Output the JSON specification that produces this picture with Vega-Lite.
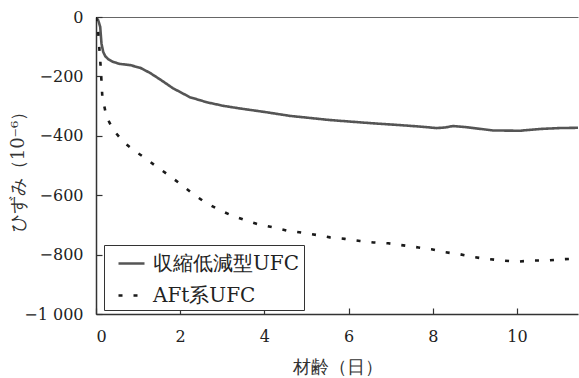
{
  "$schema": "https://vega.github.io/schema/vega-lite/v6.json",
  "width": 482,
  "height": 297,
  "autosize": "none",
  "padding": {"left": 96, "top": 17, "right": 1, "bottom": 64},
  "background": "white",
  "config": {
    "view": {"stroke": null}
  },
  "data": {
    "values": [
      {"series": "収縮低減型UFC", "day": 0, "strain": 0},
      {"series": "収縮低減型UFC", "day": 0.05, "strain": -10},
      {"series": "収縮低減型UFC", "day": 0.1, "strain": -33},
      {"series": "収縮低減型UFC", "day": 0.13, "strain": -89},
      {"series": "収縮低減型UFC", "day": 0.17, "strain": -117},
      {"series": "収縮低減型UFC", "day": 0.22, "strain": -132},
      {"series": "収縮低減型UFC", "day": 0.29, "strain": -142},
      {"series": "収縮低減型UFC", "day": 0.4, "strain": -151},
      {"series": "収縮低減型UFC", "day": 0.57, "strain": -158},
      {"series": "収縮低減型UFC", "day": 0.81, "strain": -162},
      {"series": "収縮低減型UFC", "day": 1.05, "strain": -171},
      {"series": "収縮低減型UFC", "day": 1.28, "strain": -188},
      {"series": "収縮低減型UFC", "day": 1.52, "strain": -210},
      {"series": "収縮低減型UFC", "day": 1.83, "strain": -240},
      {"series": "収縮低減型UFC", "day": 2.23, "strain": -270},
      {"series": "収縮低減型UFC", "day": 2.63, "strain": -287},
      {"series": "収縮低減型UFC", "day": 3.02, "strain": -299},
      {"series": "収縮低減型UFC", "day": 3.42, "strain": -308},
      {"series": "収縮低減型UFC", "day": 3.97, "strain": -319},
      {"series": "収縮低減型UFC", "day": 4.61, "strain": -333},
      {"series": "収縮低減型UFC", "day": 5.56, "strain": -347},
      {"series": "収縮低減型UFC", "day": 6.58, "strain": -358},
      {"series": "収縮低減型UFC", "day": 7.22, "strain": -364},
      {"series": "収縮低減型UFC", "day": 7.7, "strain": -369},
      {"series": "収縮低減型UFC", "day": 8.09, "strain": -374},
      {"series": "収縮低減型UFC", "day": 8.3, "strain": -372},
      {"series": "収縮低減型UFC", "day": 8.48, "strain": -367},
      {"series": "収縮低減型UFC", "day": 8.8, "strain": -371},
      {"series": "収縮低減型UFC", "day": 9.43, "strain": -382},
      {"series": "収縮低減型UFC", "day": 10.07, "strain": -383},
      {"series": "収縮低減型UFC", "day": 10.55, "strain": -377},
      {"series": "収縮低減型UFC", "day": 11.0, "strain": -374},
      {"series": "収縮低減型UFC", "day": 11.45, "strain": -373},
      {"series": "AFt系UFC", "day": 0, "strain": 0},
      {"series": "AFt系UFC", "day": 0.02, "strain": -20},
      {"series": "AFt系UFC", "day": 0.05, "strain": -44},
      {"series": "AFt系UFC", "day": 0.07, "strain": -88},
      {"series": "AFt系UFC", "day": 0.1, "strain": -145},
      {"series": "AFt系UFC", "day": 0.12, "strain": -190},
      {"series": "AFt系UFC", "day": 0.15, "strain": -268},
      {"series": "AFt系UFC", "day": 0.25, "strain": -336},
      {"series": "AFt系UFC", "day": 0.41, "strain": -380},
      {"series": "AFt系UFC", "day": 0.65, "strain": -420},
      {"series": "AFt系UFC", "day": 0.89, "strain": -448},
      {"series": "AFt系UFC", "day": 1.16, "strain": -474},
      {"series": "AFt系UFC", "day": 1.44, "strain": -504},
      {"series": "AFt系UFC", "day": 1.74, "strain": -534},
      {"series": "AFt系UFC", "day": 2.01, "strain": -563},
      {"series": "AFt系UFC", "day": 2.29, "strain": -594},
      {"series": "AFt系UFC", "day": 2.57, "strain": -622},
      {"series": "AFt系UFC", "day": 2.88, "strain": -646},
      {"series": "AFt系UFC", "day": 3.2, "strain": -667},
      {"series": "AFt系UFC", "day": 3.52, "strain": -683},
      {"series": "AFt系UFC", "day": 3.83, "strain": -697},
      {"series": "AFt系UFC", "day": 4.21, "strain": -708},
      {"series": "AFt系UFC", "day": 4.53, "strain": -719},
      {"series": "AFt系UFC", "day": 4.89, "strain": -726},
      {"series": "AFt系UFC", "day": 5.24, "strain": -734},
      {"series": "AFt系UFC", "day": 5.56, "strain": -742},
      {"series": "AFt系UFC", "day": 5.91, "strain": -747},
      {"series": "AFt系UFC", "day": 6.27, "strain": -754},
      {"series": "AFt系UFC", "day": 6.59, "strain": -759},
      {"series": "AFt系UFC", "day": 6.94, "strain": -762},
      {"series": "AFt系UFC", "day": 7.3, "strain": -769},
      {"series": "AFt系UFC", "day": 7.66, "strain": -776},
      {"series": "AFt系UFC", "day": 7.97, "strain": -782},
      {"series": "AFt系UFC", "day": 8.29, "strain": -792},
      {"series": "AFt系UFC", "day": 8.65, "strain": -799},
      {"series": "AFt系UFC", "day": 9.0, "strain": -809},
      {"series": "AFt系UFC", "day": 9.32, "strain": -815},
      {"series": "AFt系UFC", "day": 9.67, "strain": -820},
      {"series": "AFt系UFC", "day": 9.99, "strain": -824},
      {"series": "AFt系UFC", "day": 10.35, "strain": -820},
      {"series": "AFt系UFC", "day": 10.7, "strain": -820},
      {"series": "AFt系UFC", "day": 11.06, "strain": -816},
      {"series": "AFt系UFC", "day": 11.45, "strain": -813}
    ]
  },
  "mark": {"type": "line", "strokeWidth": 2.6, "clip": true},
  "encoding": {
    "x": {
      "field": "day",
      "type": "quantitative",
      "scale": {"domain": [0, 11.45], "nice": false, "zero": false},
      "axis": {
        "title": "材齢（日）",
        "values": [0, 2, 4, 6, 8, 10],
        "labelFont": "DejaVu Serif",
        "labelFontSize": 16,
        "labelColor": "#222",
        "titleFont": "DejaVu Serif",
        "titleFontSize": 18,
        "titleFontWeight": "normal",
        "titleColor": "#333",
        "domainColor": "#333",
        "domainWidth": 1.5,
        "tickColor": "#333",
        "tickWidth": 1.2,
        "tickSize": -6,
        "labelPadding": 20,
        "grid": false,
        "titleY": 53,
        "titleBaseline": "middle"
      }
    },
    "y": {
      "field": "strain",
      "type": "quantitative",
      "scale": {"domain": [-1000, 0], "nice": false},
      "axis": {
        "title": "ひずみ（10⁻⁶）",
        "values": [-1000, -800, -600, -400, -200, 0],
        "labelExpr": "datum.value == -1000 ? '−1 000' : replace(format(datum.value, 'd'), '-', '−')",
        "labelFont": "DejaVu Serif",
        "labelFontSize": 16,
        "labelColor": "#222",
        "titleFont": "DejaVu Serif",
        "titleFontSize": 18,
        "titleFontWeight": "normal",
        "titleColor": "#333",
        "domainColor": "#333",
        "domainWidth": 1.5,
        "tickColor": "#333",
        "tickWidth": 1.2,
        "tickSize": -6,
        "labelPadding": 19,
        "grid": true,
        "gridColor": "#666",
        "gridWidth": 1,
        "gridOpacity": {"condition": {"test": "datum.value == 0", "value": 1}, "value": 0},
        "titleX": -78,
        "titleY": 150,
        "titleBaseline": "middle"
      }
    },
    "order": {"field": "day", "type": "quantitative"},
    "color": {
      "field": "series",
      "type": "nominal",
      "scale": {"domain": ["収縮低減型UFC", "AFt系UFC"], "range": ["#555555", "#1a1a1a"]},
      "legend": {
        "title": null,
        "orient": "none",
        "legendX": 8,
        "legendY": 228,
        "strokeColor": "#333",
        "fillColor": "white",
        "padding": 4,
        "symbolOffset": 9,
        "symbolType": "stroke",
        "symbolSize": 676,
        "symbolStrokeWidth": 2.6,
        "labelFont": "DejaVu Serif",
        "labelFontSize": 20,
        "labelColor": "#222",
        "rowPadding": 7,
        "labelOffset": 7
      }
    },
    "strokeDash": {
      "field": "series",
      "type": "nominal",
      "scale": {"domain": ["収縮低減型UFC", "AFt系UFC"], "range": [[1, 0], [4, 11]]},
      "legend": {
        "title": null,
        "orient": "none",
        "legendX": 8,
        "legendY": 228,
        "strokeColor": "#333",
        "fillColor": "white",
        "padding": 4,
        "symbolOffset": 9,
        "symbolType": "stroke",
        "symbolSize": 676,
        "symbolStrokeWidth": 2.6,
        "labelFont": "DejaVu Serif",
        "labelFontSize": 20,
        "labelColor": "#222",
        "rowPadding": 7,
        "labelOffset": 7
      }
    }
  }
}
